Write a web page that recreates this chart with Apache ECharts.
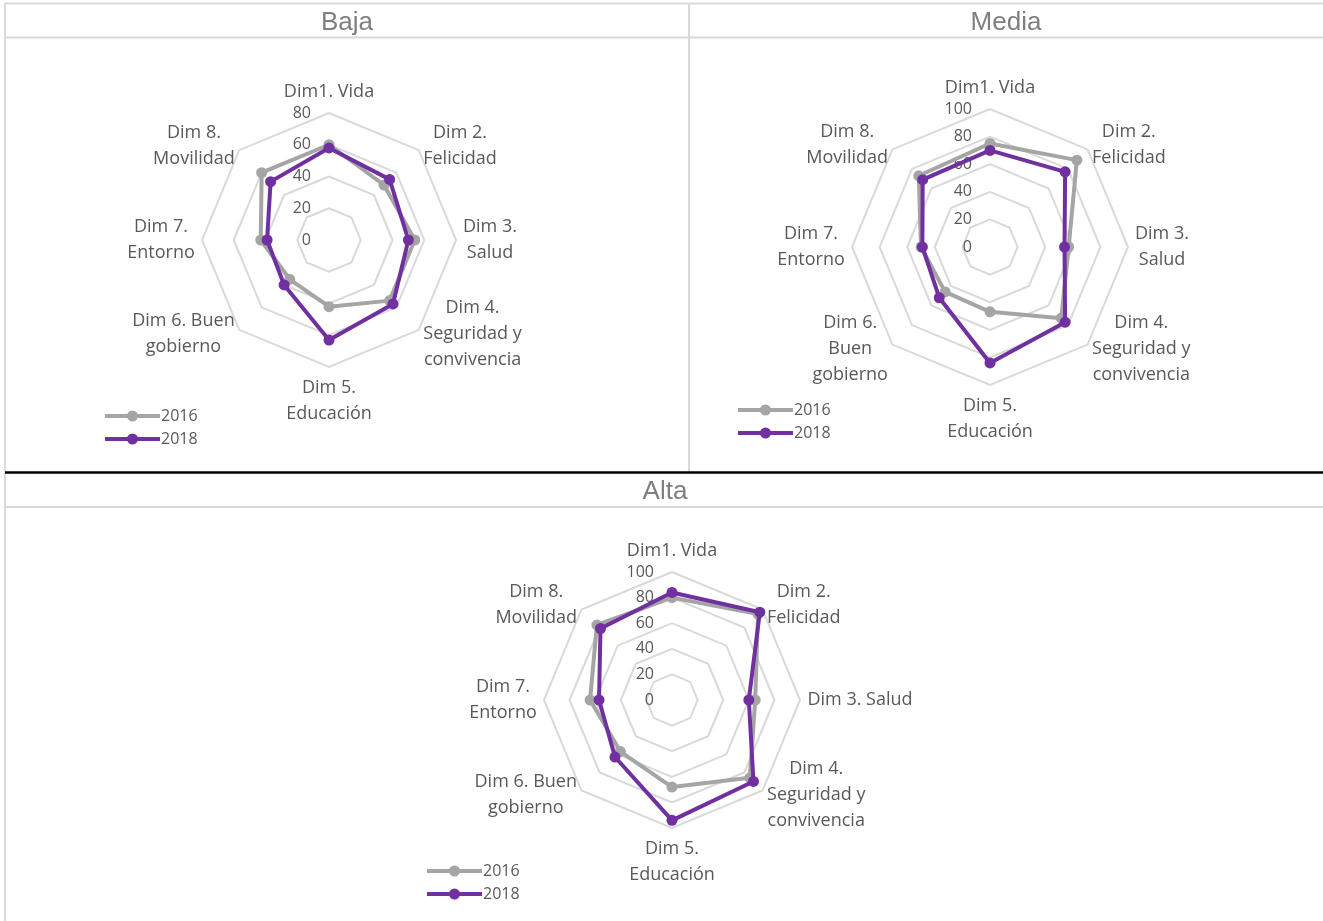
<!DOCTYPE html>
<html><head><meta charset="utf-8">
<script src="https://cdn.jsdelivr.net/npm/echarts@6/dist/echarts.min.js"></script>
<style>html,body{margin:0;padding:0;background:#fff}#c{width:1323px;height:921px}</style>
</head><body><div id="c"></div>
<script>
// ---- data ----
const dimsBaja = ['Dim1. Vida','Dim 2.\nFelicidad','Dim 3.\nSalud','Dim 4.\nSeguridad y\nconvivencia','Dim 5.\nEducación','Dim 6. Buen\ngobierno','Dim 7.\nEntorno','Dim 8.\nMovilidad'];
const dimsMedia = ['Dim1. Vida','Dim 2.\nFelicidad','Dim 3.\nSalud','Dim 4.\nSeguridad y\nconvivencia','Dim 5.\nEducación','Dim 6.\nBuen\ngobierno','Dim 7.\nEntorno','Dim 8.\nMovilidad'];
const dimsAlta = ['Dim1. Vida','Dim 2.\nFelicidad','Dim 3. Salud','Dim 4.\nSeguridad y\nconvivencia','Dim 5.\nEducación','Dim 6. Buen\ngobierno','Dim 7.\nEntorno','Dim 8.\nMovilidad'];
const years = ['2016','2018'];
const panelTitles = ['Baja','Media','Alta'];
const baja2016 = [60,49,54,54,42,35,43,60];
const baja2018 = [58,54,50,57,63,40,39,52];
const media2016 = [75,89,57,73,47,46,50,73];
const media2018 = [70,77,54,77,84,52,49,69];
const alta2016 = [80,95,65,86,68,57,64,83];
const alta2018 = [84,97,60,90,94,63,57,79];
const bajaMax = 80, mediaMax = 100, altaMax = 100;

// ---- helpers ----
const GRAY = '#a5a5a5', PURPLE = '#7030a0', TXT = '#595959', GRID = '#d9d9d9';
const FONT = 'Open Sans';
// ECharts radar goes counter-clockwise; Excel goes clockwise
const order = [0,7,6,5,4,3,2,1];
const reorder = a => order.map(i => a[i]);

const ctx = document.createElement('canvas').getContext('2d');
ctx.font = '18px "' + FONT + '"';
let richCount = 0;
function buildNames(names) {
  const rich = {}, map = {};
  names.forEach(n => {
    const key = 'k' + (richCount++);
    const lines = n.split('\n');
    const w = Math.ceil(Math.max(...lines.map(l => ctx.measureText(l).width)));
    rich[key] = {width: w, align: 'center', fontSize: 18, lineHeight: 26, color: TXT, fontFamily: FONT};
    map[n] = lines.map(l => '{' + key + '|' + l + '}').join('\n');
  });
  return {rich, map};
}

function makeRadar(names, max, split, center, radius) {
  const nm = buildNames(names);
  const ind = reorder(names).map((n, i) => {
    const o = {name: n, min: 0, max: max};
    if (i === 0) { o.axisLabel = {show: true, color: TXT, fontSize: 16, fontFamily: FONT, margin: 18}; o.nameGap = 2; }
    if (i === 4) o.nameGap = 8;
    if (i === 2 || i === 6) o.nameGap = 7;
    return o;
  });
  return {
    center: center, radius: radius, startAngle: 90, splitNumber: split, shape: 'polygon',
    indicator: ind, nameGap: 6,
    axisName: {color: TXT, fontSize: 18, fontFamily: FONT, lineHeight: 26, rich: nm.rich,
      formatter: (n) => nm.map[n] || n},
    axisLine: {show: false}, axisTick: {show: false},
    splitLine: {lineStyle: {color: GRID, width: 2}},
    splitArea: {show: false}
  };
}

function makeSeries(ri, vals, yi, color) {
  return {type: 'radar', radarIndex: ri, name: years[yi], symbol: 'circle', symbolSize: 11,
    lineStyle: {width: 4, color: color}, itemStyle: {color: color},
    z: 2 + yi, data: [{value: reorder(vals), name: years[yi]}]};
}

const ICON = 'path://M0,3.5L55,3.5L55,7.5L0,7.5Z M33,5.5A5.5,5.5,0,1,1,22,5.5A5.5,5.5,0,1,1,33,5.5Z';
function makeLegend(left, top) {
  return {left: left, top: top, orient: 'vertical', data: years, icon: ICON,
    itemWidth: 55, itemHeight: 11, itemGap: 7, itemStyle: {borderWidth: 0},
    textStyle: {fontSize: 16, color: TXT, fontFamily: FONT, lineHeight: 16, padding: [0,0,0,-4]}};
}
function makeTitle(text, x, top) {
  return {text: text, left: x, top: top, textAlign: 'center', padding: 0,
    textStyle: {fontSize: 26, fontWeight: 'normal', color: '#7f7f7f', fontFamily: 'Liberation Sans'}};
}
function hline(x1, x2, y, color, w) {
  return {type: 'line', shape: {x1: x1, y1: y, x2: x2, y2: y}, style: {stroke: color, lineWidth: w}, z: 0, silent: true};
}
function vline(x, y1, y2, color, w) {
  return {type: 'line', shape: {x1: x, y1: y1, x2: x, y2: y2}, style: {stroke: color, lineWidth: w}, z: 0, silent: true};
}

const chart = echarts.init(document.getElementById('c'), null, {renderer: 'canvas'});
chart.setOption({
  animation: false,
  backgroundColor: '#fff',
  title: [makeTitle(panelTitles[0], 347, 10), makeTitle(panelTitles[1], 1006, 10), makeTitle(panelTitles[2], 665, 479)],
  graphic: [
    hline(4, 1323, 3.5, GRID, 2),
    hline(4, 1323, 37.5, GRID, 2),
    vline(5, 3, 921, GRID, 2),
    vline(689, 3, 472, GRID, 2),
    hline(5, 1323, 472.5, '#000', 2.5),
    hline(5, 1323, 507, GRID, 2)
  ],
  radar: [
    makeRadar(dimsBaja, bajaMax, 4, [329, 240], 127),
    makeRadar(dimsMedia, mediaMax, 5, [990, 247], 138),
    makeRadar(dimsAlta, altaMax, 5, [672, 700], 128)
  ],
  legend: [makeLegend(100, 403), makeLegend(733, 397), makeLegend(422, 858)],
  series: [
    makeSeries(0, baja2016, 0, GRAY), makeSeries(0, baja2018, 1, PURPLE),
    makeSeries(1, media2016, 0, GRAY), makeSeries(1, media2018, 1, PURPLE),
    makeSeries(2, alta2016, 0, GRAY), makeSeries(2, alta2018, 1, PURPLE)
  ]
});
</script></body></html>
